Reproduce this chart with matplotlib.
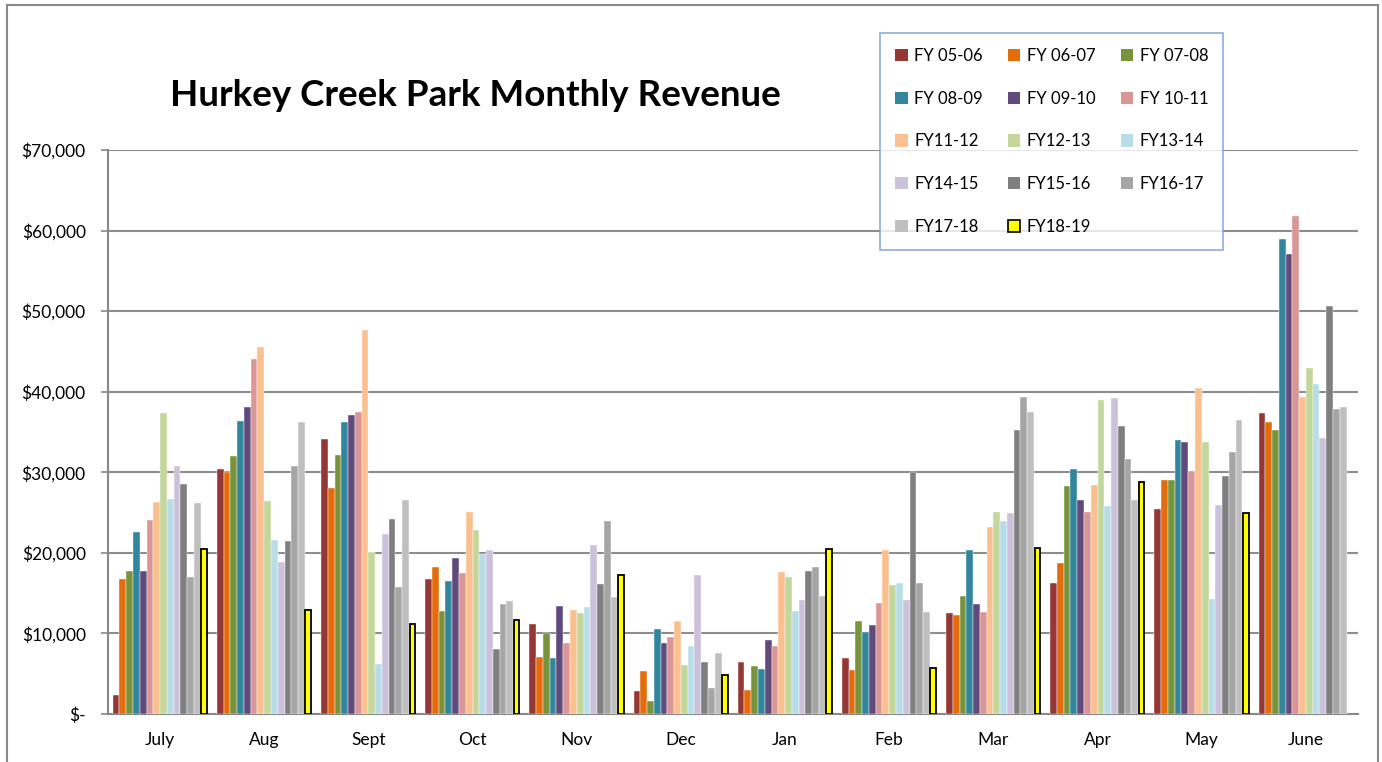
import numpy as np
import matplotlib
matplotlib.use('Agg')
import matplotlib.pyplot as plt
from matplotlib.patches import Rectangle, Patch
from matplotlib.ticker import FixedLocator, FuncFormatter

plt.rcParams['font.family'] = ['Lato', 'DejaVu Sans']

months = ['July', 'Aug', 'Sept', 'Oct', 'Nov', 'Dec', 'Jan', 'Feb', 'Mar', 'Apr', 'May', 'June']
years = ['FY 05-06', 'FY 06-07', 'FY 07-08', 'FY 08-09', 'FY 09-10', 'FY 10-11', 'FY11-12',
         'FY12-13', 'FY13-14', 'FY14-15', 'FY15-16', 'FY16-17', 'FY17-18', 'FY18-19']

fy0506 = [2300, 30400, 34100, 16800, 11200, 2800, 6500, 6900, 12500, 16300, 25400, 37300]
fy0607 = [16700, 30000, 28000, 18200, 7100, 5300, 3000, 5500, 12300, 18800, 29100, 36300]
fy0708 = [17800, 32000, 32200, 12800, 10100, 1600, 5900, 11500, 14700, 28300, 29000, 35300]
fy0809 = [22600, 36400, 36200, 16500, 7000, 10500, 5600, 10200, 20400, 30400, 34000, 58900]
fy0910 = [17700, 38100, 37100, 19400, 13400, 8800, 9200, 11100, 13700, 26600, 33800, 57100]
fy1011 = [24100, 44100, 37500, 17500, 8800, 9500, 8500, 13800, 12700, 25100, 30200, 61800]
fy1112 = [26300, 45500, 47600, 25100, 12900, 11600, 17600, 20300, 23200, 28400, 40400, 39400]
fy1213 = [37400, 26400, 20100, 22800, 12500, 6100, 17000, 16000, 25100, 39000, 33800, 42900]
fy1314 = [26700, 21600, 6200, 19800, 13300, 8500, 12800, 16200, 24000, 25800, 14300, 40900]
fy1415 = [30800, 18900, 22400, 20400, 21000, 17300, 14200, 14200, 25000, 39200, 26000, 34200]
fy1516 = [28600, 21500, 24200, 8100, 16100, 6500, 17700, 30000, 35200, 35800, 29500, 50700]
fy1617 = [17000, 30800, 15800, 13600, 23900, 3200, 18200, 16200, 39400, 31700, 32500, 37900]
fy1718 = [26200, 36200, 26600, 14000, 14500, 7600, 14700, 12600, 37500, 26500, 36500, 38100]
fy1819 = [20500, 12900, 11200, 11700, 17300, 4800, 20500, 5700, 20600, 28800, 25000, 0]

series = [fy0506, fy0607, fy0708, fy0809, fy0910, fy1011, fy1112,
          fy1213, fy1314, fy1415, fy1516, fy1617, fy1718, fy1819]
colors = ['#953735', '#E46C0A', '#77933C', '#31859C', '#604A7B', '#D99694', '#FAC090',
          '#C3D69B', '#B7DEE8', '#CCC1DA', '#7F7F7F', '#A5A5A5', '#BFBFBF', '#FFFF00']

W, H = 1382, 762
fig = plt.figure(figsize=(W / 100, H / 100), dpi=100)
fig.patches.append(Rectangle((7 / W, -0.01), (1378 - 7) / W, 1 - 5 / H + 0.01,
                             transform=fig.transFigure, fill=False,
                             edgecolor='#888888', linewidth=1.5))

ax = fig.add_axes([108 / W, (H - 714) / H, (1358 - 108) / W, 564 / H])

x = np.arange(len(months))
n = len(series)
group = 0.91
bw = group / n
for i, (vals, c) in enumerate(zip(series, colors)):
    pos = x - group / 2 + bw * (i + 0.5)
    if i == n - 1:
        vals_arr = np.array(vals, dtype=float)
        keep = vals_arr > 0
        ax.bar(pos[keep], vals_arr[keep], width=bw * 0.85, color=c,
               edgecolor='black', linewidth=1.3, zorder=3)
    else:
        ax.bar(pos, vals, width=bw, color=c, edgecolor='white', linewidth=0.3, zorder=3)

ax.set_xlim(-0.5, len(months) - 0.5)
ax.set_ylim(0, 70000)
ax.yaxis.set_major_locator(FixedLocator(range(0, 70001, 10000)))
ax.yaxis.set_major_formatter(FuncFormatter(lambda v, p: '$-' if v == 0 else f'${v:,.0f}'))
ax.set_xticks(x)
ax.set_xticklabels(months)
ax.tick_params(axis='x', length=0, pad=13, labelsize=12.5, colors='black')
ax.tick_params(axis='y', length=5, width=1.2, color='#888888', pad=11, labelsize=12.5)
for lab in ax.get_yticklabels():
    lab.set_color('black')

ax.grid(axis='y', color='#8C8C8C', linewidth=1.5, zorder=0)
ax.set_axisbelow(True)
for s in ['top', 'right']:
    ax.spines[s].set_visible(False)
for s in ['left', 'bottom']:
    ax.spines[s].set_color('#888888')
    ax.spines[s].set_linewidth(1.5)

fig.text(475 / W, 1 - 95 / H, 'Hurkey Creek Park Monthly Revenue',
         ha='center', va='center', fontsize=26.5, fontweight='bold')

handles = []
for i, (lab, c) in enumerate(zip(years, colors)):
    if i == n - 1:
        handles.append(Patch(facecolor=c, edgecolor='black', linewidth=1.2, label=lab))
    else:
        handles.append(Patch(facecolor=c, edgecolor='none', label=lab))
order = [0, 3, 6, 9, 12, 1, 4, 7, 10, 13, 2, 5, 8, 11]
leg = fig.legend([handles[k] for k in order], [years[k] for k in order],
                 ncol=3, loc='upper left', bbox_to_anchor=(880 / W, 1 - 33 / H),
                 frameon=True, fancybox=False, fontsize=12, handlelength=0.75,
                 handleheight=0.75, handletextpad=0.4, columnspacing=1.5,
                 labelspacing=1.6, borderpad=0.9, borderaxespad=0)
leg.get_frame().set_edgecolor('#6F9AD0')
leg.get_frame().set_linewidth(1.2)

fig.savefig('out.png', dpi=100)
